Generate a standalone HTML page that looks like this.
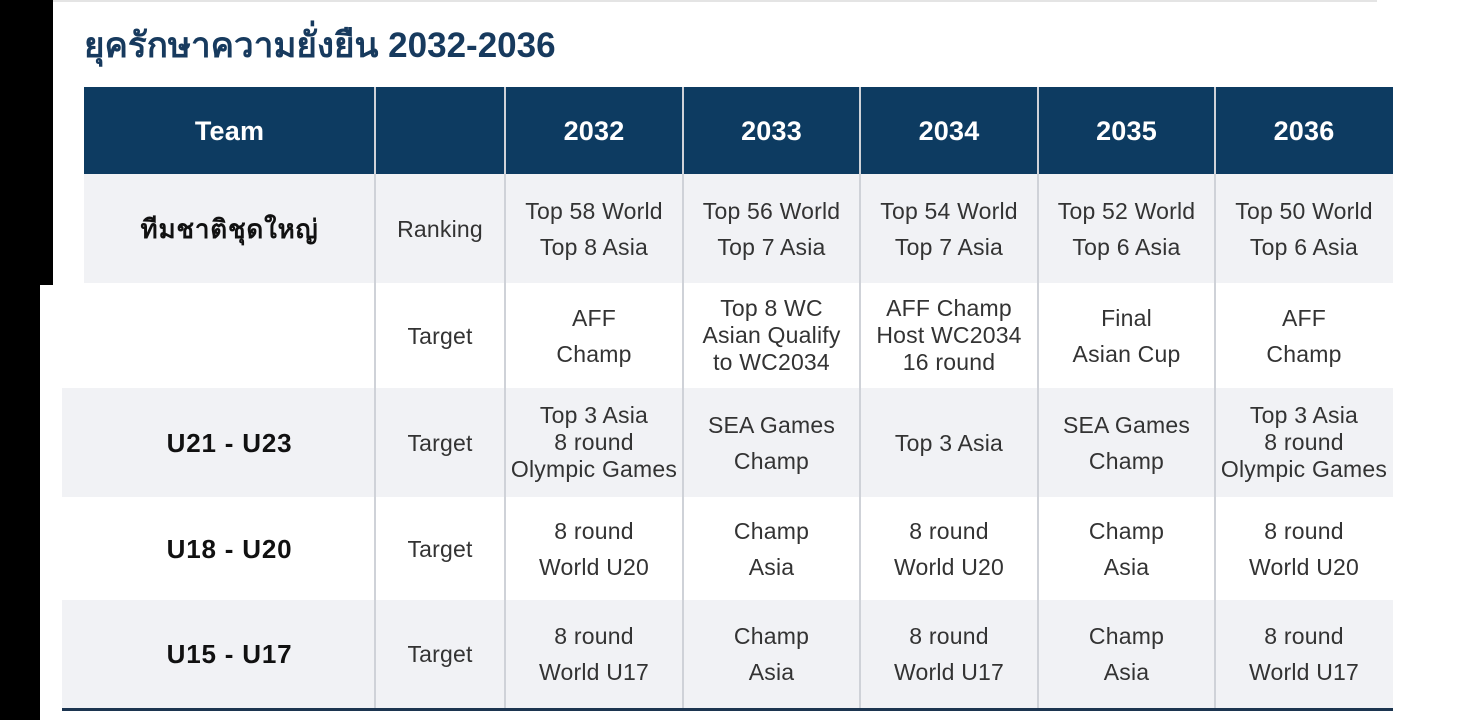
<!DOCTYPE html>
<html><head><meta charset="utf-8">
<style>
body{margin:0;width:1462px;height:720px;background:#fff;position:relative;overflow:hidden;font-family:"Liberation Sans",Arial,sans-serif;}
.abs{position:absolute;}
.cell{position:absolute;display:flex;align-items:center;justify-content:center;text-align:center;color:#333;font-size:23px;line-height:36px;letter-spacing:0.2px;}
.c3{line-height:27px;}
.hd{color:#fff;font-weight:bold;font-size:27px;}
.team{font-weight:bold;font-size:26px;color:#111;letter-spacing:0.8px;}
.vl{position:absolute;width:2px;background:#cfd2d8;}
</style></head><body>
<div class="abs" style="left:0;top:0;width:53px;height:285px;background:#000"></div>
<div class="abs" style="left:0;top:285px;width:40px;height:435px;background:#000"></div>
<div class="abs" style="left:53px;top:0;width:1324px;height:2px;background:#e4e4e4"></div>
<div class="abs" style="left:84px;top:18px;font-size:35px;font-weight:bold;color:#173a5e;font-family:'Liberation Sans','Noto Sans CJK SC',sans-serif;">ยุครักษาความยั่งยืน 2032-2036</div>

<div class="abs" style="left:84px;top:87px;width:1309px;height:87px;background:#0d3b61"></div>
<div class="abs" style="left:84px;top:174px;width:1309px;height:109px;background:#f1f2f5"></div>
<div class="abs" style="left:62px;top:388px;width:1331px;height:109px;background:#f1f2f5"></div>
<div class="abs" style="left:62px;top:600px;width:1331px;height:108px;background:#f1f2f5"></div>
<div class="abs" style="left:62px;top:708px;width:1331px;height:3px;background:#1c3550"></div>

<div id="grid"></div>
<script>
const cols=[84,375,505,683,860,1038,1215,1393];
const rows=[87,174,283,388,497,600,708];
const header=["Team","","2032","2033","2034","2035","2036"];
const teams=["ทีมชาติชุดใหญ่","","U21 - U23","U18 - U20","U15 - U17"];
const kinds=["Ranking","Target","Target","Target","Target"];
const values=[
["Top 58 World|Top 8 Asia","Top 56 World|Top 7 Asia","Top 54 World|Top 7 Asia","Top 52 World|Top 6 Asia","Top 50 World|Top 6 Asia"],
["AFF|Champ","Top 8 WC|Asian Qualify|to WC2034","AFF Champ|Host WC2034|16 round","Final|Asian Cup","AFF|Champ"],
["Top 3 Asia|8 round|Olympic Games","SEA Games|Champ","Top 3 Asia","SEA Games|Champ","Top 3 Asia|8 round|Olympic Games"],
["8 round|World U20","Champ|Asia","8 round|World U20","Champ|Asia","8 round|World U20"],
["8 round|World U17","Champ|Asia","8 round|World U17","Champ|Asia","8 round|World U17"]];
const g=document.getElementById('grid');
function mk(cls,x,y,w,h,html){const d=document.createElement('div');d.className=cls;d.style.left=x+'px';d.style.top=y+'px';d.style.width=w+'px';d.style.height=h+'px';d.innerHTML=html;g.appendChild(d);return d;}
for(let i=1;i<cols.length-1;i++){
 const v=document.createElement('div');v.className='vl';
 
 
 v.style.left=(cols[i]-1)+'px';v.style.top=rows[0]+'px';v.style.height=(rows[rows.length-1]-rows[0])+'px';
 g.appendChild(v);
}
header.forEach((t,i)=>{const d=mk('cell hd',cols[i],rows[0],cols[i+1]-cols[i],rows[1]-rows[0],t);
 
 });
for(let r=0;r<5;r++){
 const y=rows[r+1],h=rows[r+2]-rows[r+1];
 const t=mk('cell team',cols[0],y,cols[1]-cols[0],h,teams[r]);
 t.style.fontFamily="'Liberation Sans','Noto Sans CJK SC',sans-serif";
 
 
 const k=mk('cell',cols[1],y,cols[2]-cols[1],h,kinds[r]);
 
 
 for(let c=0;c<5;c++){
  const parts=values[r][c].split('|');
  const d=mk('cell'+(parts.length>2?' c3':''),cols[c+2],y,cols[c+3]-cols[c+2],h,parts.join('<br>'));
  
  
 }
}
</script>
</body></html>
